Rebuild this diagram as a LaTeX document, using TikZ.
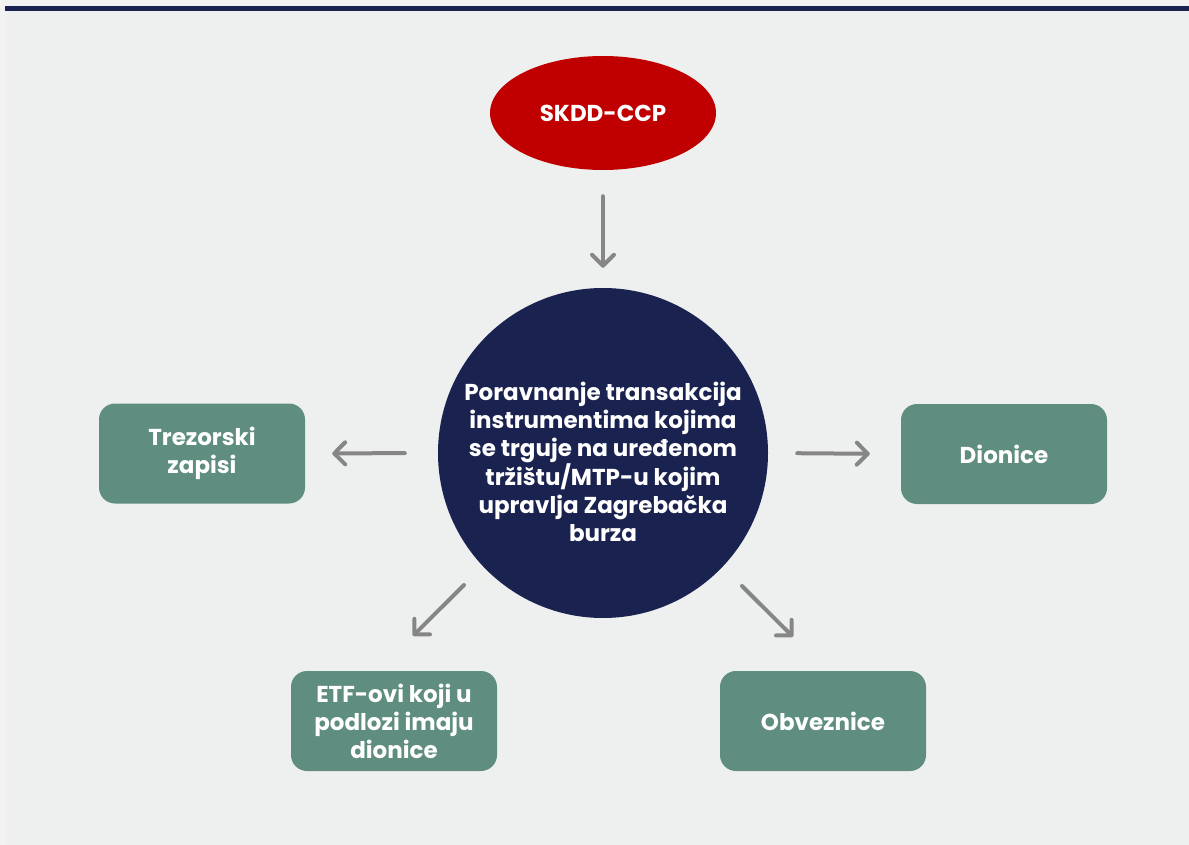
\documentclass[tikz,border=0pt]{standalone}
\usepackage{fontspec}
\setmainfont{Poppins}
\usetikzlibrary{arrows.meta,shapes.geometric,positioning,calc}

\definecolor{outerbg}{HTML}{F2F2F2}
\definecolor{panelbg}{HTML}{EEF0EF}
\definecolor{navy}{HTML}{1A2350}
\definecolor{ccpred}{HTML}{C00000}
\definecolor{boxgreen}{HTML}{5F8E80}
\definecolor{arrowgray}{HTML}{868686}

\tikzset{
	instr/.style={rectangle, rounded corners=16pt, fill=boxgreen, text=white,
		minimum width=206pt, minimum height=100pt, align=center,
		font=\bfseries\fontsize{23}{28}\selectfont},
	conn/.style={arrowgray, line width=4pt, line cap=round,
		-{Straight Barb[length=11pt,width=22pt,round]}}
}

\begin{document}
\begin{tikzpicture}[x=1pt,y=-1pt]

		% background
		\fill[outerbg] (0,0) rectangle (1189,845);
		\fill[panelbg] (7,11) rectangle (1189,845);
		\fill[navy] (5,6) rectangle (1189,11);
		\useasboundingbox (0,0) rectangle (1189,845);

		% SKDD-CCP
		\node[ellipse, fill=ccpred, text=white, minimum width=226pt, minimum height=114pt,
			font=\bfseries\fontsize{23}{28}\selectfont] (ccp) at (603,113) {SKDD-CCP};

		%---------------------
		% settlement
		%---------------------
		\node[circle, fill=navy, minimum size=330pt, inner sep=0pt] (settle) at (603,453) {};
		\node[text=white, align=center, font=\bfseries\fontsize{23}{28}\selectfont]
			(settletxt) at ($(settle)+(0,9)$) {Poravnanje transakcija\\instrumentima kojima\\se trguje na uređenom\\tržištu/MTP-u kojim\\upravlja Zagrebačka\\burza};

		%---------------------
		% instruments
		%---------------------
		\node[instr] (trez) at (202,453.5) {Trezorski\\zapisi};
		\node[instr] (dion) at (1004,454) {Dionice};
		\node[instr] (etf) at (394,721) {ETF-ovi koji u\\podlozi imaju\\dionice};
		\node[instr] (obv) at (823,721) {Obveznice};

		% arrow ends
		\coordinate (bl0) at ($(settle)+(-139,132)$);
		\coordinate (bl1) at ($(etf.north)+(19,-35)$);
		\coordinate (br0) at ($(settle)+(139,133)$);
		\coordinate (br1) at ($(obv.north)+(-30,-34)$);

		\draw[conn, shorten <=26pt, shorten >=20pt] (ccp) -- (settle.north);
		\draw[conn, shorten <=33pt, shorten >=27pt] (settle.west) -- (trez.east);
		\draw[conn, shorten <=29pt, shorten >=31pt] (settle.east) -- (dion.west);
		\draw[conn] (bl0) -- (bl1);
		\draw[conn] (br0) -- (br1);

\end{tikzpicture}
\end{document}
